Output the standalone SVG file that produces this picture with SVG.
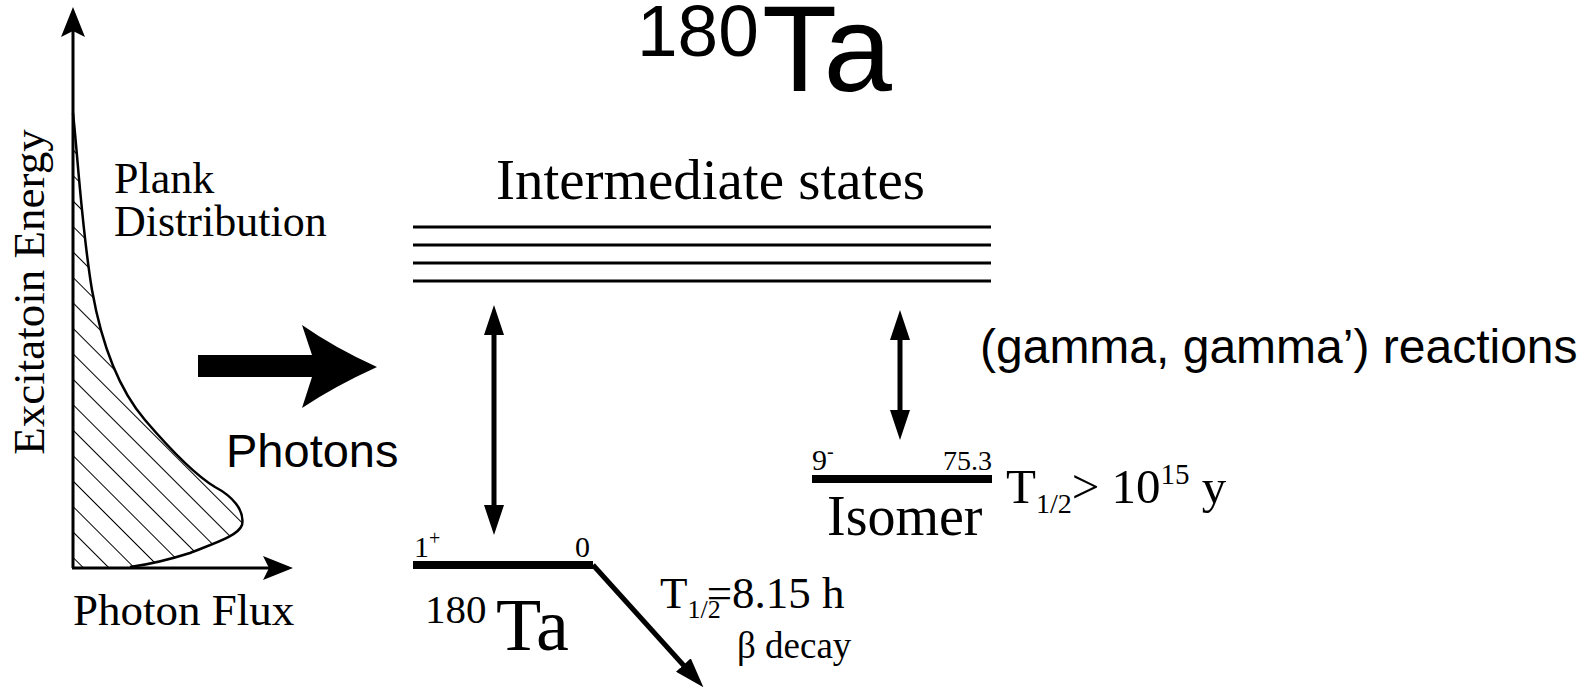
<svg xmlns="http://www.w3.org/2000/svg" width="1593" height="689" viewBox="0 0 1593 689">
<style>
.serif{font-family:"Liberation Serif","Times New Roman",serif;fill:#000}
.sans{font-family:"Liberation Sans",Arial,sans-serif;fill:#000}
.level{stroke:#000;stroke-width:8;fill:none}
.inter{stroke:#000;stroke-width:3;fill:none}
.axis{stroke:#000;stroke-width:3;fill:none}
.conn{stroke:#000;stroke-width:5;fill:none}
</style>
<defs>
<pattern id="hatch" patternUnits="userSpaceOnUse" width="18" height="18" patternTransform="rotate(45)">
<line x1="0" y1="0.5" x2="18" y2="0.5" stroke="#000" stroke-width="1"/>
</pattern>
<marker id="axhead" markerUnits="userSpaceOnUse" viewBox="0 0 30 24" refX="6" refY="12" markerWidth="30" markerHeight="24" orient="auto">
<path d="M0,0 L30,12 L0,24 L6,12 Z" fill="#000"/>
</marker>
<marker id="head" markerUnits="userSpaceOnUse" viewBox="0 0 30 20" refX="4" refY="10" markerWidth="30" markerHeight="20" orient="auto-start-reverse">
<path d="M0,0 L30,10 L0,20 Z" fill="#000"/>
</marker>
</defs>

<g id="title">
<text class="sans" x="637" y="56" font-size="73">180</text>
<text class="sans" x="762" y="91" font-size="123">Ta</text>
</g>

<g id="plot">
<path d="M73,113 C78,160 82,230 92,290 C100,335 115,385 145,420 C175,455 200,478 215,487 C232,496 245,510 242,525 C238,536 215,543 190,553 C165,561 145,565 130,567 L73,568 Z" fill="url(#hatch)"/>
<path d="M73,113 C78,160 82,230 92,290 C100,335 115,385 145,420 C175,455 200,478 215,487 C232,496 245,510 242,525 C238,536 215,543 190,553 C165,561 145,565 130,567" fill="none" stroke="#000" stroke-width="2.5"/>
<line class="axis" x1="73" y1="568" x2="73" y2="31" marker-end="url(#axhead)"/>
<line class="axis" x1="72" y1="568" x2="269" y2="568" marker-end="url(#axhead)"/>
<text class="serif" font-size="45" transform="translate(44,292) rotate(-90)" text-anchor="middle">Excitatoin Energy</text>
<text class="serif" x="73" y="625" font-size="45">Photon Flux</text>
<text class="serif" x="114" y="193" font-size="44">Plank</text>
<text class="serif" x="114" y="236" font-size="44">Distribution</text>
</g>

<g id="photons">
<path d="M198,355 L312,355 L302,325 Q335,348 377,367 Q335,386 302,408 L312,377 L198,377 Z" fill="#000"/>
<text class="sans" x="226" y="467" font-size="47">Photons</text>
</g>

<g id="intermediate">
<text class="serif" x="496" y="199" font-size="57">Intermediate states</text>
<line class="inter" x1="413" y1="227" x2="991" y2="227"/>
<line class="inter" x1="413" y1="245" x2="991" y2="245"/>
<line class="inter" x1="413" y1="263" x2="991" y2="263"/>
<line class="inter" x1="413" y1="281" x2="991" y2="281"/>
</g>

<g id="ground">
<line class="level" x1="413" y1="565" x2="593" y2="565"/>
<text class="serif" x="414" y="557" font-size="30">1<tspan font-size="20" dy="-12">+</tspan></text>
<text class="serif" x="575" y="557" font-size="30">0</text>
<text class="serif" x="425" y="623" font-size="41">180</text>
<text class="serif" x="496" y="650" font-size="74">Ta</text>
<text class="serif" x="660" y="608" font-size="45">T<tspan font-size="26" dy="10">1/2</tspan><tspan dx="-14" dy="-10">=8.15 h</tspan></text>
<text class="serif" x="737" y="658" font-size="37">β decay</text>
</g>

<g id="isomer">
<line class="level" x1="812" y1="479" x2="992" y2="479"/>
<text class="serif" x="812" y="470" font-size="30">9<tspan font-size="20" dy="-12">-</tspan></text>
<text class="serif" x="992" y="470" font-size="28" text-anchor="end">75.3</text>
<text class="serif" x="827" y="535" font-size="56">Isomer</text>
<text class="serif" x="1006" y="503" font-size="49">T<tspan font-size="28" dy="10">1/2</tspan><tspan dy="-10">&gt; 10</tspan><tspan font-size="29" dy="-19">15</tspan><tspan dy="19"> y</tspan></text>
</g>

<g id="reaction">
<text class="sans" x="980" y="363" font-size="48">(gamma, gamma’) reactions</text>
</g>

<g id="connectors">
<line class="conn" x1="494" y1="331" x2="494" y2="509" marker-start="url(#head)" marker-end="url(#head)"/>
<line class="conn" x1="900" y1="336" x2="900" y2="414" marker-start="url(#head)" marker-end="url(#head)"/>
<line class="conn" x1="593" y1="565" x2="686" y2="668" marker-end="url(#head)"/>
</g>
</svg>
